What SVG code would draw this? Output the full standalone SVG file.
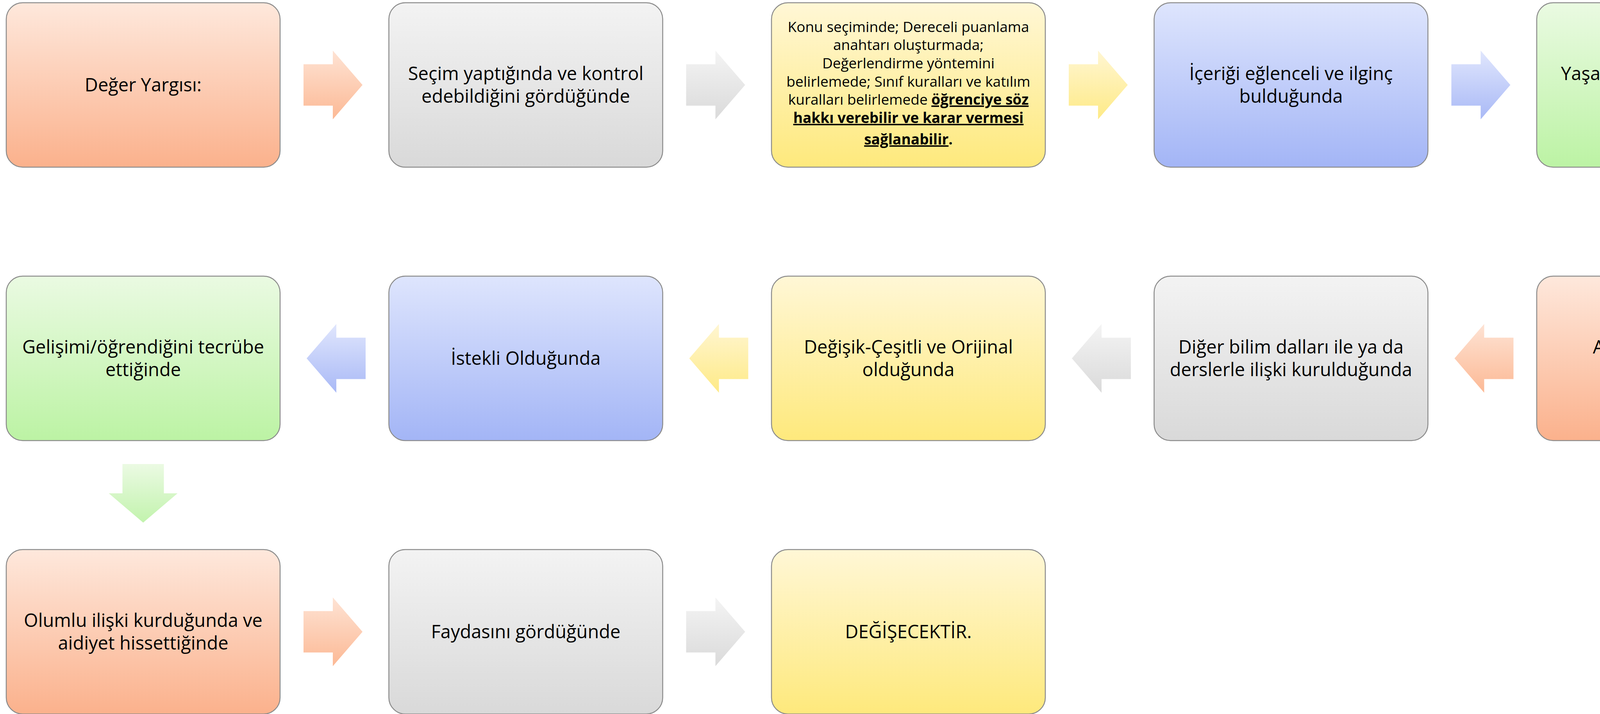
<svg xmlns="http://www.w3.org/2000/svg" width="4691" height="1828" viewBox="0 0 4691 1828">
<defs>
<linearGradient id="gO" x1="0" y1="0" x2="0" y2="1"><stop offset="0" stop-color="#FEE8DC"/><stop offset="1" stop-color="#FBB18C"/></linearGradient>
<linearGradient id="gG" x1="0" y1="0" x2="0" y2="1"><stop offset="0" stop-color="#F3F3F3"/><stop offset="1" stop-color="#D9D9D9"/></linearGradient>
<linearGradient id="gY" x1="0" y1="0" x2="0" y2="1"><stop offset="0" stop-color="#FFF7D6"/><stop offset="1" stop-color="#FEE97C"/></linearGradient>
<linearGradient id="gB" x1="0" y1="0" x2="0" y2="1"><stop offset="0" stop-color="#DEE5FD"/><stop offset="1" stop-color="#A3B5F6"/></linearGradient>
<linearGradient id="gL" x1="0" y1="0" x2="0" y2="1"><stop offset="0" stop-color="#EAFAE2"/><stop offset="1" stop-color="#BCF3A4"/></linearGradient>
<linearGradient id="aO" x1="0" y1="0" x2="0" y2="1"><stop offset="0" stop-color="#FEE3D4"/><stop offset="1" stop-color="#FCB995"/></linearGradient>
<linearGradient id="aG" x1="0" y1="0" x2="0" y2="1"><stop offset="0" stop-color="#F4F4F4"/><stop offset="1" stop-color="#DADADA"/></linearGradient>
<linearGradient id="aY" x1="0" y1="0" x2="0" y2="1"><stop offset="0" stop-color="#FFF6D2"/><stop offset="1" stop-color="#FEEA86"/></linearGradient>
<linearGradient id="aB" x1="0" y1="0" x2="0" y2="1"><stop offset="0" stop-color="#E0E6FD"/><stop offset="1" stop-color="#A9B9F6"/></linearGradient>
<linearGradient id="aL" x1="0" y1="0" x2="0" y2="1"><stop offset="0" stop-color="#EBFAE3"/><stop offset="1" stop-color="#C2F3AD"/></linearGradient>
</defs>
<style>
.box{stroke:#8C8C8C;stroke-width:2.5}
.t{font-family:"Open Sans","Liberation Sans",sans-serif;font-size:47px;fill:#000;text-anchor:middle}
.s{font-family:"Open Sans","Liberation Sans",sans-serif;font-size:37px;fill:#000;text-anchor:middle}
.bu{font-weight:bold;text-decoration:underline}
.b{font-weight:bold}
</style>
<g id="connectors">
<polygon fill="url(#aO)" points="777,164.5 852,164.5 852,129.5 928,217.5 852,305.5 852,270.5 777,270.5"/>
<polygon fill="url(#aG)" points="1756.5,164.5 1831.5,164.5 1831.5,129.5 1907.5,217.5 1831.5,305.5 1831.5,270.5 1756.5,270.5"/>
<polygon fill="url(#aY)" points="2736,164.5 2811,164.5 2811,129.5 2887,217.5 2811,305.5 2811,270.5 2736,270.5"/>
<polygon fill="url(#aB)" points="3715.5,164.5 3790.5,164.5 3790.5,129.5 3866.5,217.5 3790.5,305.5 3790.5,270.5 3715.5,270.5"/>
<polygon fill="url(#aL)" points="4231.5,488 4337.5,488 4337.5,563 4372.5,563 4284.5,638 4196.5,563 4231.5,563"/>
<polygon fill="url(#aO)" points="3723.5,917.5 3799.5,829.5 3799.5,864.5 3874.5,864.5 3874.5,970.5 3799.5,970.5 3799.5,1005.5"/>
<polygon fill="url(#aG)" points="2744,917.5 2820,829.5 2820,864.5 2895,864.5 2895,970.5 2820,970.5 2820,1005.5"/>
<polygon fill="url(#aY)" points="1764.5,917.5 1840.5,829.5 1840.5,864.5 1915.5,864.5 1915.5,970.5 1840.5,970.5 1840.5,1005.5"/>
<polygon fill="url(#aB)" points="785,917.5 861,829.5 861,864.5 936,864.5 936,970.5 861,970.5 861,1005.5"/>
<polygon fill="url(#aL)" points="313.5,1188 419.5,1188 419.5,1263 454.5,1263 366.5,1338 278.5,1263 313.5,1263"/>
<polygon fill="url(#aO)" points="777,1564.5 852,1564.5 852,1529.5 928,1617.5 852,1705.5 852,1670.5 777,1670.5"/>
<polygon fill="url(#aG)" points="1756.5,1564.5 1831.5,1564.5 1831.5,1529.5 1907.5,1617.5 1831.5,1705.5 1831.5,1670.5 1756.5,1670.5"/>
</g>
<g id="n1"><rect class="box" fill="url(#gO)" x="16" y="7" width="701" height="421" rx="42"/><text class="t" x="366.5" y="234">Değer Yargısı:</text></g>
<g id="n2"><rect class="box" fill="url(#gG)" x="995.5" y="7" width="701" height="421" rx="42"/><text class="t" x="1346" y="205">Seçim yaptığında ve kontrol</text><text class="t" x="1346" y="263">edebildiğini gördüğünde</text></g>
<g id="n3"><rect class="box" fill="url(#gY)" x="1975" y="7" width="701" height="421" rx="42"/>
<text class="s" x="2325.5" y="82">Konu seçiminde; Dereceli puanlama</text>
<text class="s" x="2325.5" y="128">anahtarı oluşturmada;</text>
<text class="s" x="2325.5" y="175">Değerlendirme yöntemini</text>
<text class="s" x="2325.5" y="222">belirlemede; Sınıf kuralları ve katılım</text>
<text class="s" x="2325.5" y="268">kuralları belirlemede <tspan class="bu">öğrenciye söz</tspan></text>
<text class="s" x="2325.5" y="315"><tspan class="bu">hakkı verebilir ve karar vermesi</tspan></text>
<text class="s" x="2325.5" y="370"><tspan class="bu">sağlanabilir</tspan><tspan class="b">.</tspan></text>
</g>
<g id="n4"><rect class="box" fill="url(#gB)" x="2954.5" y="7" width="701" height="421" rx="42"/><text class="t" x="3305" y="205">İçeriği eğlenceli ve ilginç</text><text class="t" x="3305" y="263">bulduğunda</text></g>
<g id="n5"><rect class="box" fill="url(#gL)" x="3934" y="7" width="701" height="421" rx="42"/><text class="t" x="4284.5" y="205">Yaşamla ve günlük hayatla</text><text class="t" x="4284.5" y="263">ilişkilendirdiğinde</text></g>
<g id="n6"><rect class="box" fill="url(#gO)" x="3934" y="707" width="701" height="421" rx="42"/><text class="t" x="4284.5" y="905">Anlamlı ve mantıklı</text><text class="t" x="4284.5" y="963">bulduğunda</text></g>
<g id="n7"><rect class="box" fill="url(#gG)" x="2954.5" y="707" width="701" height="421" rx="42"/><text class="t" x="3305" y="905">Diğer bilim dalları ile ya da</text><text class="t" x="3305" y="963">derslerle ilişki kurulduğunda</text></g>
<g id="n8"><rect class="box" fill="url(#gY)" x="1975" y="707" width="701" height="421" rx="42"/><text class="t" x="2325.5" y="905">Değişik-Çeşitli ve Orijinal</text><text class="t" x="2325.5" y="963">olduğunda</text></g>
<g id="n9"><rect class="box" fill="url(#gB)" x="995.5" y="707" width="701" height="421" rx="42"/><text class="t" x="1346" y="934">İstekli Olduğunda</text></g>
<g id="n10"><rect class="box" fill="url(#gL)" x="16" y="707" width="701" height="421" rx="42"/><text class="t" x="366.5" y="905">Gelişimi/öğrendiğini tecrübe</text><text class="t" x="366.5" y="963">ettiğinde</text></g>
<g id="n11"><rect class="box" fill="url(#gO)" x="16" y="1407" width="701" height="421" rx="42"/><text class="t" x="366.5" y="1605">Olumlu ilişki kurduğunda ve</text><text class="t" x="366.5" y="1663">aidiyet hissettiğinde</text></g>
<g id="n12"><rect class="box" fill="url(#gG)" x="995.5" y="1407" width="701" height="421" rx="42"/><text class="t" x="1346" y="1634">Faydasını gördüğünde</text></g>
<g id="n13"><rect class="box" fill="url(#gY)" x="1975" y="1407" width="701" height="421" rx="42"/><text class="t" x="2325.5" y="1634">DEĞİŞECEKTİR.</text></g>
</svg>
